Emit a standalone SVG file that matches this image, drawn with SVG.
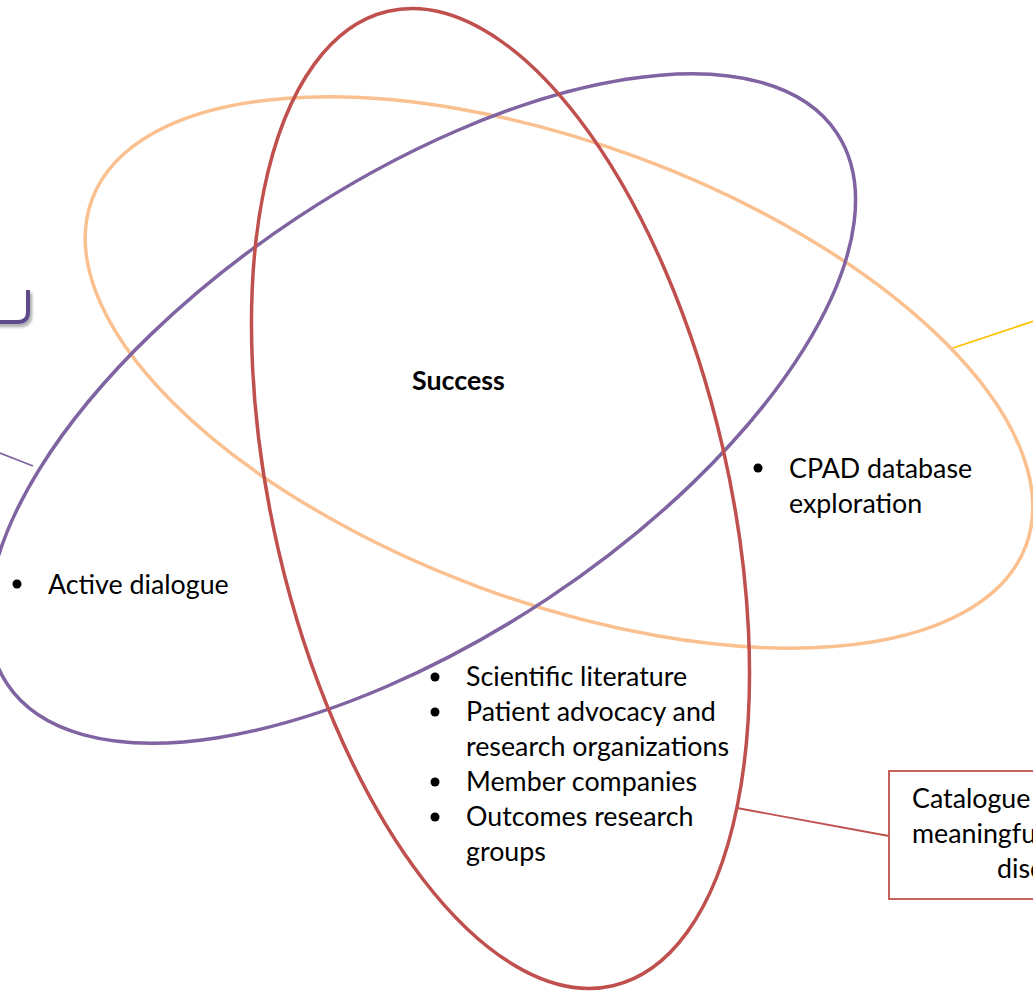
<svg xmlns="http://www.w3.org/2000/svg" width="1033" height="992" viewBox="0 0 1033 992">
  <defs>
    <filter id="soft-shadow" x="-50%" y="-50%" width="200%" height="200%">
      <feGaussianBlur in="SourceAlpha" stdDeviation="1.5"/>
      <feOffset dx="2" dy="3" result="blur"/>
      <feComponentTransfer><feFuncA type="linear" slope="0.35"/></feComponentTransfer>
      <feMerge><feMergeNode/><feMergeNode in="SourceGraphic"/></feMerge>
    </filter>
  </defs>
  <style>
    .ring { fill: none; stroke-width: 3.5; }
    .orange { stroke: #FAC090; }
    .purple { stroke: #8064A2; }
    .red { stroke: #C0504D; }
    .label { font-family: Lato, "Liberation Sans", sans-serif; font-size: 26.8px; fill: #000; }
    .bold { font-weight: bold; }
    .dot { fill: #000; }
    .link { fill: none; stroke-width: 1.8; }
  </style>
  <rect width="1033" height="992" fill="#fff"/>

  <!-- corner of a framed box that sits just off the left edge -->
  <g id="offscreen-frame" filter="url(#soft-shadow)">
    <path d="M -10 322 L 18 322 Q 28 322 28 312 L 28 290" fill="none" stroke="#5F4B8B" stroke-width="4"/>
  </g>

  <!-- connectors -->
  <g id="connectors">
    <line class="link" x1="0" y1="453" x2="33" y2="466" stroke="#8064A2"/>
    <line class="link" x1="950" y1="349" x2="1040" y2="319" stroke="#FFC000"/>
    <line class="link" x1="737" y1="808" x2="889" y2="836" stroke="#C0504D"/>
  </g>

  <!-- three overlapping rings -->
  <g id="ring-orange">
    <ellipse class="ring orange" cx="559" cy="372.5" rx="498" ry="229" transform="rotate(20.3 559 372.5)"/>
  </g>
  <g id="ring-purple">
    <ellipse class="ring purple" cx="422" cy="408.5" rx="498" ry="228" transform="rotate(-33.6 422 408.5)"/>
  </g>
  <g id="ring-red">
    <ellipse class="ring red" cx="500.5" cy="498.5" rx="500" ry="228" transform="rotate(77 500.5 498.5)"/>
  </g>

  <!-- centre label -->
  <g id="success">
    <text class="label bold" x="412" y="390">Success</text>
  </g>

  <!-- purple ring item -->
  <g id="active-dialogue">
    <circle class="dot" cx="17" cy="584" r="4.5"/>
    <text class="label" x="48" y="594">Active dialogue</text>
  </g>

  <!-- orange ring item -->
  <g id="cpad-exploration">
    <circle class="dot" cx="758" cy="468" r="4.5"/>
    <text class="label" x="789" y="478">CPAD database</text>
    <text class="label" x="789" y="513">exploration</text>
  </g>

  <!-- red ring items -->
  <g id="sources">
    <circle class="dot" cx="435" cy="677" r="4.5"/>
    <text class="label" x="466" y="686">Scientific literature</text>
    <circle class="dot" cx="435" cy="712" r="4.5"/>
    <text class="label" x="466" y="721">Patient advocacy and</text>
    <text class="label" x="466" y="756">research organizations</text>
    <circle class="dot" cx="435" cy="782" r="4.5"/>
    <text class="label" x="466" y="791">Member companies</text>
    <circle class="dot" cx="435" cy="817" r="4.5"/>
    <text class="label" x="466" y="826">Outcomes research</text>
    <text class="label" x="466" y="861">groups</text>
  </g>

  <!-- callout box on the right -->
  <g id="catalogue-box">
    <rect x="889" y="771" width="200" height="128" fill="#fff" stroke="#C0504D" stroke-width="1.8"/>
    <text class="label" x="912" y="808">Catalogue</text>
    <text class="label" x="912" y="843">meaningfu</text>
    <text class="label" x="997" y="878">disc</text>
  </g>
</svg>
